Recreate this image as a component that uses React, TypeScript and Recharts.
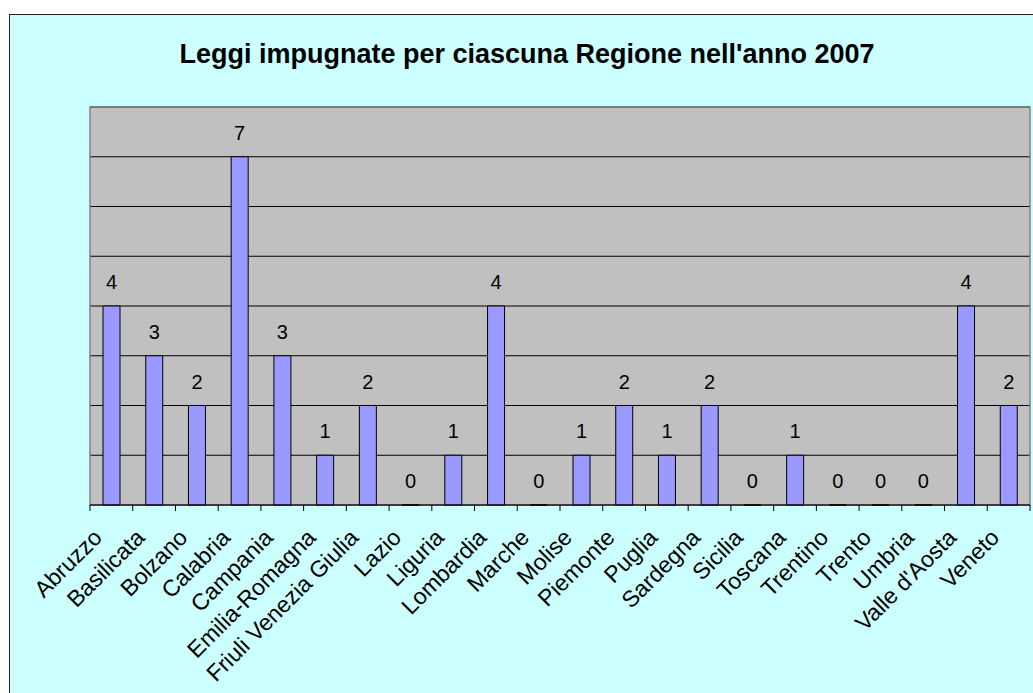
import { BarChart, Bar, XAxis, YAxis, CartesianGrid, LabelList, ReferenceArea } from 'recharts';

const regions = [
    'Abruzzo', 'Basilicata', 'Bolzano', 'Calabria', 'Campania', 'Emilia-Romagna',
    'Friuli Venezia Giulia', 'Lazio', 'Liguria', 'Lombardia', 'Marche', 'Molise',
    'Piemonte', 'Puglia', 'Sardegna', 'Sicilia', 'Toscana', 'Trentino', 'Trento',
    'Umbria', "Valle d'Aosta", 'Veneto',
];
const leggi = [4, 3, 2, 7, 3, 1, 2, 0, 1, 4, 0, 1, 2, 1, 2, 0, 1, 0, 0, 0, 4, 2];
const yTicks = [0, 1, 2, 3, 4, 5, 6, 7, 8];

const data = regions.map((name, i) => ({ name, leggi: leggi[i] }));

const CHART_W = 1023;
const CHART_H = 678;
const AXIS_H = 188;
const margin = { top: 92, right: 3, bottom: 0, left: 80 };
const band = (CHART_W - margin.left - margin.right) / regions.length;
const font = '"Liberation Sans", Arial, sans-serif';

// category label rotated 45deg, tick marks sit on the category boundaries
function RegionTick(props: any) {
    const { x, y, payload, index } = props;
    const last = index === regions.length - 1;
    return (
        <g>
            <line x1={x - band / 2} y1={y} x2={x - band / 2} y2={y + 6} stroke="#000" />
            {last && <line x1={x + band / 2} y1={y} x2={x + band / 2} y2={y + 6} stroke="#000" />}
            <text
                x={x - 8}
                y={y + 34}
                textAnchor="end"
                transform={`rotate(-45, ${x - 8}, ${y + 34})`}
                fontSize={23}
                fontFamily={font}
                fill="#000"
            >
                {payload.value}
            </text>
        </g>
    );
}

export default function App() {
    return (
        <div style={{ position: 'fixed', left: 0, top: 0, width: 1033, height: 693, overflow: 'hidden', background: '#fff' }}>
            <div
                style={{
                    position: 'absolute', left: 9, top: 14, width: 1024, height: 679,
                    borderLeft: '1px solid #222', borderTop: '1px solid #222', background: '#CCFFFF',
                }}
            >
                <div
                    style={{
                        position: 'absolute', left: 17, top: 26, width: 1000, textAlign: 'center',
                        fontFamily: font, fontWeight: 'bold', fontSize: 27, lineHeight: '27px', color: '#000',
                    }}
                >
                    Leggi impugnate per ciascuna Regione nell'anno 2007
                </div>
                <BarChart width={CHART_W} height={CHART_H} data={data} margin={margin} barCategoryGap={0}>
                    <CartesianGrid vertical={false} stroke="#000" fill="#C0C0C0" fillOpacity={1} />
                    <ReferenceArea y1={0} y2={8} fill="none" stroke="#808080" strokeWidth={1.5} ifOverflow="visible" />
                    <XAxis
                        dataKey="name"
                        interval={0}
                        tickSize={0}
                        tickMargin={0}
                        tickLine={false}
                        axisLine={{ stroke: '#000' }}
                        tick={<RegionTick />}
                        height={AXIS_H}
                    />
                    <YAxis hide domain={[0, 8]} ticks={yTicks} />
                    <Bar
                        dataKey="leggi"
                        fill="#9999FF"
                        stroke="#000"
                        strokeWidth={1}
                        barSize={17}
                        minPointSize={0.01}
                        isAnimationActive={false}
                    >
                        <LabelList dataKey="leggi" position="top" offset={17} fontSize={20} fontFamily={font} fill="#000" />
                    </Bar>
                </BarChart>
            </div>
        </div>
    );
}
